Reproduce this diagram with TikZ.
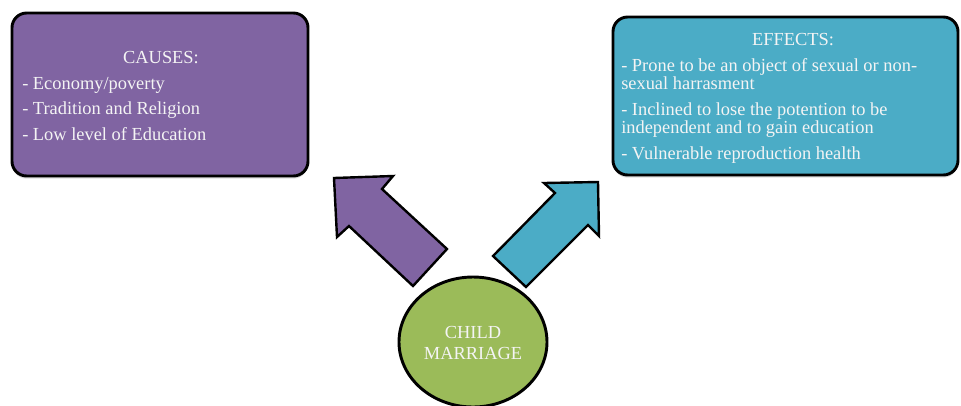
\documentclass[tikz,border=0pt]{standalone}
\usepackage{fontspec}
\setmainfont{Liberation Serif}
\usetikzlibrary{shadows,shapes.geometric}
\definecolor{cpurple}{HTML}{8064A2}
\definecolor{cteal}{HTML}{4BACC6}
\definecolor{cgreen}{HTML}{9BBB59}
\definecolor{ctext}{HTML}{F4F4F4}
\tikzset{
  panel/.style={draw=black, line width=2.2pt, rounded corners=11pt,
    drop shadow={opacity=0.25, shadow xshift=0pt, shadow yshift=-2pt}},
  txt/.style={anchor=base west, inner sep=0pt, text=ctext,
    font=\fontsize{13.8}{16}\selectfont},
  ctxt/.style={txt, anchor=base},
  blockarrow/.style={draw=black, line width=1.8pt, line join=miter},
}
\begin{document}
\begin{tikzpicture}[x=0.75pt,y=-0.75pt]
\useasboundingbox (0,0) rectangle (961,405);
\fill[white] (0,0) rectangle (961,405);
% boxes
\node[panel, fill=cpurple, minimum width=222pt, minimum height=122.25pt] (causes) at (160,94.5) {};
\node[panel, fill=cteal, minimum width=258.75pt, minimum height=118.5pt] (effects) at (785.5,96) {};
% causes text
\node[ctxt] (ch) at (161,63) {CAUSES:};
\node[txt] (c1) at (22,89) {- Economy/poverty};
\node[txt] (c2) at (22,114) {- Tradition and Religion};
\node[txt] (c3) at (22,140) {- Low level of Education};
% effects text
\node[ctxt] (eh) at (793,45) {EFFECTS:};
\node[txt] (e1) at (621,71) {- Prone to be an object of sexual or non-};
\node[txt] (e1b) at (621,89) {sexual harrasment};
\node[txt] (e2) at (621,115) {- Inclined to lose the potention to be};
\node[txt] (e2b) at (621,133) {independent and to gain education};
\node[txt] (e3) at (621,159) {- Vulnerable reproduction health};
% arrows
\filldraw[blockarrow, fill=cpurple] (334,178) -- (393,176) -- (382,189) -- (447,249) -- (413,286) -- (349,226) -- (337,237) -- cycle;
\filldraw[blockarrow, fill=cteal] (598,182) -- (599,236) -- (588,225) -- (526,287) -- (493,256) -- (555,193) -- (544,183) -- cycle;
% central ellipse
\node[draw=black, line width=2.2pt, fill=cgreen, ellipse, minimum width=111pt, minimum height=97.5pt, inner sep=0pt] (cm) at (473,342) {};
\node[ctxt] (cm1) at (473,338) {CHILD};
\node[ctxt] (cm2) at (473,359) {MARRIAGE};
\end{tikzpicture}
\end{document}
